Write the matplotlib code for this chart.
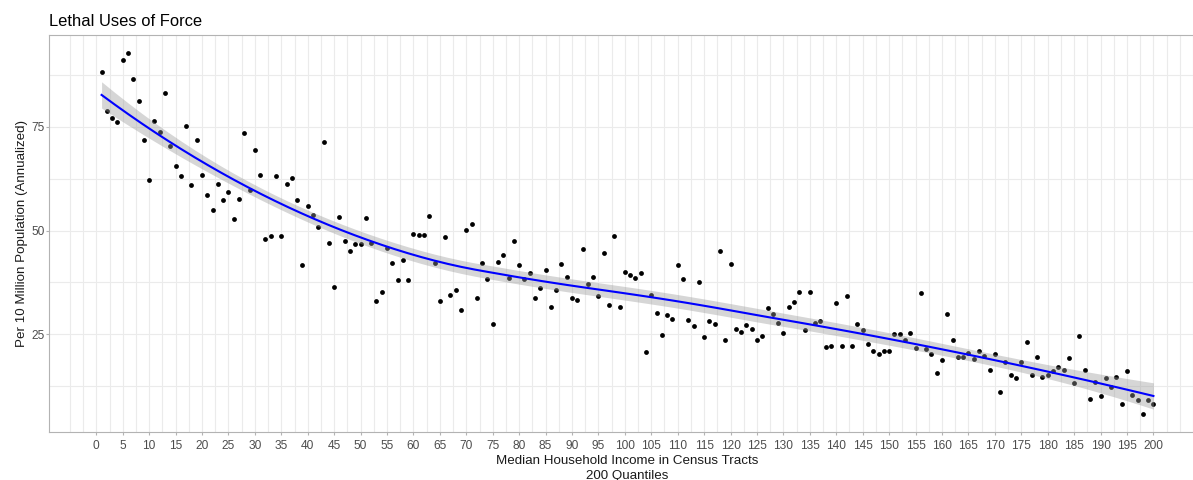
import matplotlib
matplotlib.use("Agg")
import matplotlib.pyplot as plt
import numpy as np

plt.rcParams['font.family'] = ['Liberation Sans', 'DejaVu Sans']

title = "Lethal Uses of Force"
x_title = ["Median Household Income in Census Tracts", "200 Quantiles"]
y_title = "Per 10 Million Population (Annualized)"

quantile = np.arange(1, 201)
rate = np.array([
    88.3, 78.9, 77.1, 76.2, 91.0, 92.8, 86.5, 81.1, 71.7, 62.1,
    76.4, 73.7, 83.2, 70.3, 65.5, 63.2, 75.2, 61.0, 71.7, 63.4,
    58.5, 54.9, 61.1, 57.3, 59.3, 52.8, 57.7, 73.5, 59.8, 69.4,
    63.4, 47.9, 48.6, 63.1, 48.8, 61.1, 62.6, 57.3, 41.6, 56.0,
    53.7, 50.8, 71.3, 47.0, 36.5, 53.3, 47.5, 45.0, 46.7, 46.7,
    53.0, 46.9, 33.0, 35.3, 45.8, 42.2, 38.0, 43.0, 38.0, 49.2,
    49.0, 49.0, 53.5, 42.1, 33.1, 48.5, 34.4, 35.7, 30.8, 50.1,
    51.5, 33.7, 42.1, 38.4, 27.6, 42.5, 44.0, 38.6, 47.4, 41.8,
    38.4, 39.8, 33.7, 36.2, 40.5, 31.6, 35.7, 41.9, 38.7, 33.7,
    33.3, 45.6, 37.1, 38.9, 34.3, 44.7, 32.1, 48.8, 31.6, 40.0,
    39.4, 38.6, 39.8, 20.7, 34.5, 30.1, 24.8, 29.7, 28.8, 41.6,
    38.4, 28.4, 26.9, 37.5, 24.3, 28.1, 27.6, 45.0, 23.6, 41.9,
    26.3, 25.6, 27.2, 26.3, 23.6, 24.5, 31.3, 30.0, 27.7, 25.2,
    31.7, 32.9, 35.3, 26.0, 35.1, 27.7, 28.1, 22.0, 22.3, 32.6,
    22.3, 34.2, 22.3, 27.5, 26.0, 22.7, 21.1, 20.3, 20.9, 21.1,
    25.0, 25.0, 23.6, 25.2, 21.6, 35.0, 21.4, 20.3, 15.8, 18.9,
    29.9, 23.6, 19.6, 19.6, 20.4, 19.1, 21.0, 19.8, 16.5, 20.2,
    11.1, 18.3, 15.2, 14.5, 18.3, 23.1, 15.2, 19.5, 14.7, 15.2,
    16.1, 17.1, 16.4, 19.3, 13.3, 24.6, 16.4, 9.4, 13.5, 10.1,
    14.5, 12.3, 14.7, 8.2, 16.1, 10.4, 9.2, 5.8, 9.2, 8.2,
])

x_breaks = np.arange(0, 201, 5)
y_breaks = [25, 50, 75]


def loess_rows(x, at, span=0.75):
    # local quadratic with tricube weights, one row of the smoother per point
    n = len(x)
    q = int(np.floor(n * span))
    rows = []
    for x0 in at:
        d = np.abs(x - x0)
        h = np.sort(d)[q - 1]
        w = np.clip(1 - (d / h) ** 3, 0, None) ** 3
        X = np.column_stack([np.ones(n), x - x0, (x - x0) ** 2])
        XtW = X.T * w
        rows.append(np.linalg.solve(XtW @ X, XtW)[0])
    return np.array(rows)


xf = quantile.astype(float)
L = loess_rows(xf, xf)
resid = rate - L @ rate
one_delta = len(xf) - 2 * np.trace(L) + np.trace(L.T @ L)
sigma = np.sqrt(np.sum(resid ** 2) / one_delta)

grid = np.linspace(xf.min(), xf.max(), 80)
Lg = loess_rows(xf, grid)
fit = Lg @ rate
se = sigma * np.sqrt(np.sum(Lg ** 2, axis=1))
lo, hi = fit - 1.97 * se, fit + 1.97 * se

W, H = 1193, 480
fig = plt.figure(figsize=(W / 100, H / 100), dpi=100)
ax = fig.add_axes([49 / W, 48 / H, 1157 / W, 397 / H])

ax.set_xlim(-8.95, 209.95)
ax.set_ylim(1.47, 97.1)

for v in np.arange(-5, 210, 2.5):
    ax.axvline(v, color='#EBEBEB', lw=0.8, zorder=0)
for v in [12.5, 25, 37.5, 50, 62.5, 75, 87.5]:
    ax.axhline(v, color='#EBEBEB', lw=0.8, zorder=0)

ax.scatter(quantile, rate, s=12, color='black', linewidths=0, zorder=2)
ax.fill_between(grid, lo, hi, color='#999999', alpha=0.4, linewidth=0, zorder=3)
ax.plot(grid, fit, color='#0000FF', lw=1.5, zorder=4)

ax.set_xticks(x_breaks)
ax.set_yticks(y_breaks)
ax.tick_params(axis='both', colors='#B3B3B3', labelcolor='#4D4D4D',
               labelsize=8.6, length=2, width=0.8)
ax.tick_params(axis='x', pad=4)
ax.tick_params(axis='y', pad=1.2)
for s in ax.spines.values():
    s.set_color('#B3B3B3')
    s.set_linewidth(0.8)

cx = 627.5 / W
fig.text(cx, 1 - 464 / H, x_title[0], fontsize=9.6, color='#1A1A1A',
         ha='center', va='baseline')
fig.text(cx, 1 - 478.5 / H, x_title[1], fontsize=9.6, color='#1A1A1A',
         ha='center', va='baseline')
fig.text(21.7 / W, 1 - 233.5 / H, y_title, fontsize=9.6, color='#1A1A1A',
         rotation=90, ha='center', va='center')
fig.text(49 / W, 1 - 26 / H, title, fontsize=11.9, color='black',
         ha='left', va='baseline')

fig.savefig('out.png', dpi=100)
